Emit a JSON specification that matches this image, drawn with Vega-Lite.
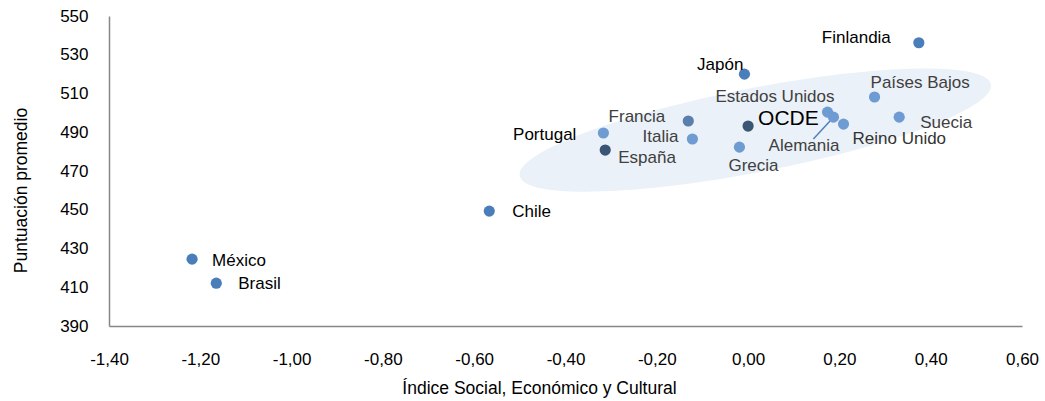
{
  "$schema": "https://vega.github.io/schema/vega-lite/v6.json",
  "width": 913,
  "height": 310,
  "autosize": {"type": "none"},
  "padding": {"left": 109, "top": 16, "right": 23, "bottom": 75},
  "background": "white",
  "config": {
    "view": {"stroke": null},
    "font": "Liberation Sans",
    "text": {"font": "Liberation Sans", "fontSize": 17},
    "axis": {
      "labelFont": "Liberation Sans",
      "titleFont": "Liberation Sans",
      "labelFontSize": 17,
      "titleFontSize": 17.5,
      "titleFontWeight": "normal",
      "labelColor": "#000000",
      "titleColor": "#000000",
      "ticks": false,
      "tickSize": 0,
      "grid": false,
      "labelFlush": false,
      "labelOverlap": false,
      "domainColor": "#878787",
      "domainWidth": 1.5
    }
  },
  "data": {
    "values": [
      {"pais": "Finlandia", "isec": 0.374, "puntuacion": 536.2},
      {"pais": "Japón", "isec": -0.008, "puntuacion": 520.0},
      {"pais": "Países Bajos", "isec": 0.277, "puntuacion": 508.2},
      {"pais": "Estados Unidos", "isec": 0.174, "puntuacion": 500.4},
      {"pais": "Alemania", "isec": 0.187, "puntuacion": 497.8},
      {"pais": "Reino Unido", "isec": 0.209, "puntuacion": 494.2},
      {"pais": "Suecia", "isec": 0.331, "puntuacion": 497.8},
      {"pais": "OCDE", "isec": 0.0, "puntuacion": 493.2},
      {"pais": "Francia", "isec": -0.131, "puntuacion": 495.8},
      {"pais": "Italia", "isec": -0.122, "puntuacion": 486.5},
      {"pais": "Portugal", "isec": -0.317, "puntuacion": 489.6},
      {"pais": "España", "isec": -0.313, "puntuacion": 480.8},
      {"pais": "Grecia", "isec": -0.019, "puntuacion": 482.3},
      {"pais": "Chile", "isec": -0.567, "puntuacion": 449.3},
      {"pais": "México", "isec": -1.218, "puntuacion": 424.5},
      {"pais": "Brasil", "isec": -1.165, "puntuacion": 412.1}
    ]
  },
  "encoding": {
    "x": {
      "field": "isec",
      "type": "quantitative",
      "scale": {"domain": [-1.4, 0.6], "nice": false, "zero": false},
      "axis": {
        "title": "Índice  Social, Económico y Cultural",
        "values": [-1.4, -1.2, -1.0, -0.8, -0.6, -0.4, -0.2, 0, 0.2, 0.4, 0.6],
        "labelExpr": "(datum.value < -0.0001 ? '-' : '') + replace(format(abs(datum.value), '.2f'), '.', ',')",
        "labelPadding": 25,
        "titleX": 430,
        "titleY": 67,
        "titleAlign": "center",
        "titleBaseline": "alphabetic"
      }
    },
    "y": {
      "field": "puntuacion",
      "type": "quantitative",
      "scale": {"domain": [390, 550], "nice": false, "zero": false},
      "axis": {
        "title": "Puntuación promedio",
        "values": [390, 410, 430, 450, 470, 490, 510, 530, 550],
        "labelPadding": 21,
        "titleX": -88,
        "titleY": 174,
        "titleAngle": -90,
        "titleAlign": "center",
        "titleBaseline": "middle"
      }
    }
  },
  "layer": [
    {
      "transform": [{"filter": "datum.pais == 'OCDE'"}],
      "mark": {
        "type": "point",
        "shape": "M0.9816,-0.1908 C1,-0.0959 0.5755,0.0664 0.0334,0.1718 C-0.5088,0.2772 -0.9632,0.2857 -0.9816,0.1908 C-1,0.0959 -0.5755,-0.0664 -0.0334,-0.1718 C0.5088,-0.2772 0.9632,-0.2857 0.9816,-0.1908 Z",
        "size": 230400,
        "filled": true,
        "fill": "#ebf1f8",
        "opacity": 1,
        "strokeWidth": 0
      },
      "encoding": {
        "x": {"datum": 0.016, "type": "quantitative", "title": "Índice  Social, Económico y Cultural"},
        "y": {"datum": 491.1, "type": "quantitative", "title": "Puntuación promedio"}
      }
    },
    {
      "transform": [{"filter": "datum.pais == 'Alemania'"}],
      "mark": {"type": "rule", "color": "#4f81bd", "strokeWidth": 1.5},
      "encoding": {
        "x2": {"datum": 0.143},
        "y2": {"datum": 486.5}
      }
    },
    {
      "mark": {"type": "point", "filled": true, "opacity": 1, "size": 125},
      "encoding": {
        "color": {
          "field": "pais",
          "type": "nominal",
          "legend": null,
          "scale": {
            "domain": ["Finlandia", "Japón", "Países Bajos", "Estados Unidos", "Alemania", "Reino Unido", "Suecia", "OCDE", "Francia", "Italia", "Portugal", "España", "Grecia", "Chile", "México", "Brasil"],
            "range": ["#4a7ebb", "#4a7ebb", "#6e9bd1", "#6e9bd1", "#6e9bd1", "#6e9bd1", "#6e9bd1", "#3b5575", "#5a7fab", "#6e9bd1", "#6e9bd1", "#3b5575", "#6e9bd1", "#4a7ebb", "#4a7ebb", "#4a7ebb"]
          }
        }
      }
    },
    {"transform": [{"filter": "datum.pais == 'Finlandia'"}], "mark": {"type": "text", "align": "right", "dx": -28, "dy": -5, "color": "#000000"}, "encoding": {"text": {"field": "pais"}}},
    {"transform": [{"filter": "datum.pais == 'Japón'"}], "mark": {"type": "text", "align": "right", "dx": -1, "dy": -9, "color": "#000000"}, "encoding": {"text": {"field": "pais"}}},
    {"transform": [{"filter": "datum.pais == 'Países Bajos'"}], "mark": {"type": "text", "align": "left", "dx": -4, "dy": -14, "color": "#404040"}, "encoding": {"text": {"field": "pais"}}},
    {"transform": [{"filter": "datum.pais == 'Estados Unidos'"}], "mark": {"type": "text", "align": "right", "dx": 7, "dy": -15, "color": "#404040"}, "encoding": {"text": {"field": "pais"}}},
    {"transform": [{"filter": "datum.pais == 'OCDE'"}], "mark": {"type": "text", "align": "left", "dx": 10, "dy": -7, "fontSize": 21, "color": "#000000"}, "encoding": {"text": {"field": "pais"}}},
    {"transform": [{"filter": "datum.pais == 'Suecia'"}], "mark": {"type": "text", "align": "left", "dx": 21, "dy": 6, "color": "#404040"}, "encoding": {"text": {"field": "pais"}}},
    {"transform": [{"filter": "datum.pais == 'Reino Unido'"}], "mark": {"type": "text", "align": "left", "dx": 9, "dy": 15, "color": "#333333"}, "encoding": {"text": {"field": "pais"}}},
    {"transform": [{"filter": "datum.pais == 'Alemania'"}], "mark": {"type": "text", "align": "right", "dx": 6, "dy": 29, "color": "#404040"}, "encoding": {"text": {"field": "pais"}}},
    {"transform": [{"filter": "datum.pais == 'Francia'"}], "mark": {"type": "text", "align": "right", "dx": -23, "dy": -4, "color": "#404040"}, "encoding": {"text": {"field": "pais"}}},
    {"transform": [{"filter": "datum.pais == 'Italia'"}], "mark": {"type": "text", "align": "right", "dx": -14, "dy": -2, "color": "#404040"}, "encoding": {"text": {"field": "pais"}}},
    {"transform": [{"filter": "datum.pais == 'Portugal'"}], "mark": {"type": "text", "align": "right", "dx": -27, "dy": 2, "color": "#000000"}, "encoding": {"text": {"field": "pais"}}},
    {"transform": [{"filter": "datum.pais == 'España'"}], "mark": {"type": "text", "align": "left", "dx": 13, "dy": 8, "color": "#404040"}, "encoding": {"text": {"field": "pais"}}},
    {"transform": [{"filter": "datum.pais == 'Grecia'"}], "mark": {"type": "text", "align": "left", "dx": -11, "dy": 19, "color": "#404040"}, "encoding": {"text": {"field": "pais"}}},
    {"transform": [{"filter": "datum.pais == 'Chile'"}], "mark": {"type": "text", "align": "left", "dx": 23, "dy": 1, "color": "#000000"}, "encoding": {"text": {"field": "pais"}}},
    {"transform": [{"filter": "datum.pais == 'México'"}], "mark": {"type": "text", "align": "left", "dx": 20, "dy": 2, "color": "#000000"}, "encoding": {"text": {"field": "pais"}}},
    {"transform": [{"filter": "datum.pais == 'Brasil'"}], "mark": {"type": "text", "align": "left", "dx": 22, "dy": 1, "color": "#000000"}, "encoding": {"text": {"field": "pais"}}}
  ]
}
